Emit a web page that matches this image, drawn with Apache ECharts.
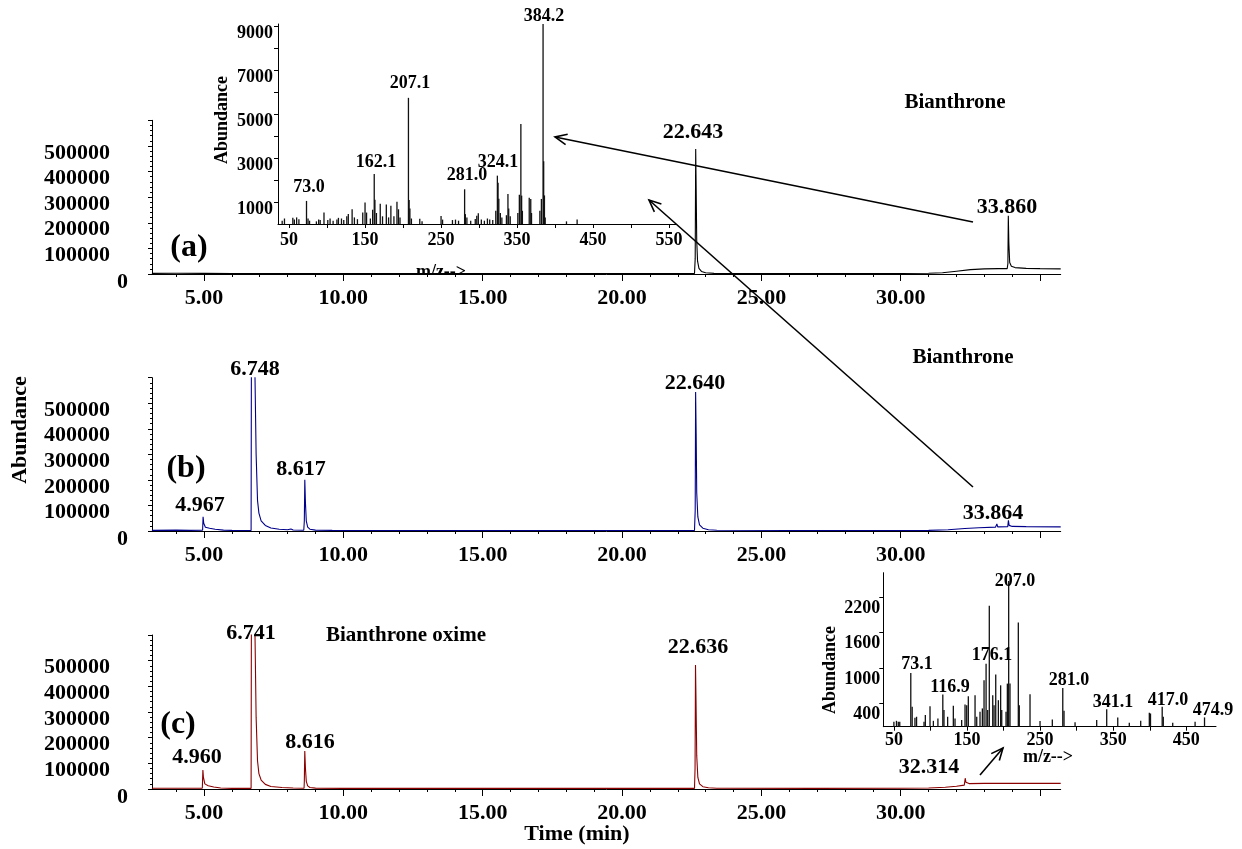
<!DOCTYPE html>
<html>
<head>
<meta charset="utf-8">
<script src="https://cdn.jsdelivr.net/npm/echarts@6/dist/echarts.min.js"></script>
<style>
html,body{margin:0;padding:0;background:#fff}
#chart{width:1242px;height:849px}
</style>
</head>
<body>
<div id="chart"></div>
<script>
// chromatograms: [time (min), abundance]
var traceA = [[3.13,2500],[4.0,2800],[5.0,2500],[6.0,2000],[8.0,2000],[10.0,1800],[12.0,2000],[15.0,1800],[18.0,1800],[20.0,1500],[22.0,1500],[22.60,2000],[22.625,60000],[22.643,488000],[22.66,330000],[22.68,130000],[22.71,50000],[22.76,22000],[22.85,10000],[23.0,5000],[23.3,2500],[25.0,1500],[28.0,1500],[30.0,2000],[31.0,3000],[31.5,5000],[32.0,11000],[32.5,17000],[33.0,20000],[33.5,21000],[33.82,21000],[33.845,40000],[33.86,227000],[33.88,120000],[33.91,45000],[33.97,30000],[34.1,25000],[34.5,22000],[35.0,21000],[35.74,20000]];

var traceB = [[3.13,2500],[4.0,3500],[4.5,2500],[4.95,3000],[4.967,56000],[4.99,30000],[5.05,15000],[5.2,11000],[5.4,7000],[5.7,3500],[6.0,2500],[6.5,2000],[6.69,2000],[6.70,650000],[6.748,1500000],[6.80,800000],[6.83,600000],[6.87,300000],[6.92,120000],[6.97,70000],[7.05,40000],[7.2,22000],[7.4,12000],[7.7,7000],[8.0,5000],[8.12,8000],[8.2,4000],[8.58,3000],[8.60,40000],[8.617,201000],[8.64,110000],[8.67,40000],[8.72,15000],[8.8,7000],[9.0,3500],[9.6,2500],[9.62,5000],[9.65,2500],[11.4,2000],[11.42,4500],[11.45,2000],[11.95,2000],[11.97,6000],[12.0,2000],[15.46,2000],[15.48,7000],[15.5,2000],[18.6,2000],[18.62,5000],[18.65,2000],[22.0,2000],[22.60,2500],[22.625,80000],[22.640,544000],[22.66,380000],[22.68,150000],[22.72,55000],[22.78,24000],[22.9,11000],[23.1,5000],[23.4,3000],[26.0,2000],[30.0,2000],[31.0,2500],[31.7,5000],[32.3,10000],[32.8,13000],[33.4,15000],[33.45,28000],[33.48,16000],[33.84,17000],[33.864,42000],[33.89,22000],[34.0,18000],[34.5,17000],[35.74,16000]];

var traceC = [[3.13,3000],[4.0,3000],[4.94,3500],[4.96,74000],[4.98,45000],[5.03,20000],[5.15,13000],[5.35,8000],[5.6,4000],[6.0,2500],[6.69,2500],[6.70,650000],[6.741,1500000],[6.80,800000],[6.83,600000],[6.87,280000],[6.92,110000],[6.97,60000],[7.05,35000],[7.2,18000],[7.4,10000],[7.8,6000],[8.2,4000],[8.59,3000],[8.60,30000],[8.616,148000],[8.64,80000],[8.67,30000],[8.72,12000],[8.8,6000],[9.0,3500],[10.0,2500],[11.6,2500],[11.63,6000],[11.66,2500],[15.0,2500],[20.0,2500],[22.60,2500],[22.62,80000],[22.636,483000],[22.655,340000],[22.68,130000],[22.72,45000],[22.78,20000],[22.9,9000],[23.1,5000],[23.4,3000],[27.0,2500],[30.0,3000],[31.0,4000],[31.6,7000],[32.0,11000],[32.28,15000],[32.314,42000],[32.34,26000],[32.45,21000],[33.0,22000],[34.0,22000],[35.74,22000]];

// mass spectra: [m/z, abundance]
var spectrumA = [[41,150],[44,250],[55,280],[57,200],[60,300],[63,220],[73.0,1050],[75,250],[77,150],[86,120],[89,200],[91,180],[96,520],[101,180],[104,250],[108,150],[113,200],[115,280],[119,250],[122,180],[126,350],[128,450],[133,670],[136,300],[140,220],[147,520],[150,980],[152,520],[157,250],[160,650],[162.1,2270],[163,1100],[165,500],[170,920],[173,350],[178,890],[181,300],[184,830],[188,350],[192,1010],[194,670],[196,300],[207.1,5740],[208,1090],[209,700],[211,250],[222,240],[225,120],[250,360],[252,200],[265,180],[269,200],[273,150],[281.0,1580],[282,450],[284,300],[289,150],[295,230],[297,380],[299,490],[303,200],[307,150],[311,250],[314,200],[318,180],[322,600],[324.1,2200],[325,1880],[326,1150],[328,500],[330,300],[336,400],[338,1360],[339,700],[341,350],[351,500],[353,1330],[355,4550],[356,1290],[357,600],[366,1200],[368,1140],[369,500],[380,600],[382,1140],[384.2,9100],[385,2860],[386,1300],[387,300],[415,120],[429,210]];

var spectrumC = [[50,85],[53.5,100],[56,85],[58,85],[73.1,912],[75,338],[78.8,152],[81,169],[91.2,85],[93,197],[99.4,349],[104,100],[110.2,141],[116.9,547],[118.5,282],[123.5,169],[131.3,355],[133.6,141],[142.7,113],[147.3,378],[149.6,366],[151.8,518],[161,535],[163.3,169],[167.8,253],[171,311],[173.3,789],[176.1,1071],[178.3,282],[180.5,2056],[185.2,535],[187,366],[189.3,890],[192.9,451],[196,704],[197.5,282],[203.4,253],[205.2,733],[207.0,2478],[208.8,733],[220.2,1774],[221.5,366],[236.2,552],[249.9,96],[266.7,124],[281.0,659],[282.7,270],[297.8,74],[327.4,113],[341.1,299],[356.2,158],[372,68],[387.6,101],[399.4,236],[401,225],[417.0,338],[418.5,169],[431.4,68],[462,85],[474.9,158]];

// tick positions and labels
var timeLabels = [5, 10, 15, 20, 25, 30];
var timeMajorTicks = [5, 10, 15, 20, 25, 30, 35];
var timeMinorTicks = [4, 6, 7, 8, 9, 11, 12, 13, 14, 16, 17, 18, 19, 21, 22, 23, 24, 26, 27, 28, 29, 31, 32, 33, 34];
var mzLabelsA = [50, 150, 250, 350, 450, 550];
var mzTicksA = [50, 100, 150, 200, 250, 300, 350, 400, 450, 500, 550];
var mzLabelsC = [50, 150, 250, 350, 450];
var mzTicksC = [50, 100, 150, 200, 250, 300, 350, 400, 450];
var abLabelsA = [1000, 3000, 5000, 7000, 9000];
var abTicksA = [1000, 2000, 3000, 4000, 5000, 6000, 7000, 8000, 9000];
var abLabelsC = [400, 1000, 1600, 2200];

var FONT = '"Liberation Serif","Times New Roman",serif';

var myChart = echarts.init(document.getElementById('chart'));

function fnt(size){
    return {fontFamily: FONT, fontWeight: 'bold', fontSize: size, color: '#000'};
}

function mainX(g){
    return {
        gridIndex: g, type: 'value', position: 'bottom', min: 3.134, max: 35.74, z: 3,
        axisLine: {lineStyle: {color: '#000', width: 1}},
        axisTick: {customValues: timeMajorTicks, length: 7, lineStyle: {color: '#000'}},
        axisLabel: Object.assign({customValues: timeLabels, margin: 13,
            formatter: function(v){ return v.toFixed(2); }}, fnt(22)),
        splitLine: {show: false}
    };
}
function minorX(g){
    return {
        gridIndex: g, type: 'value', position: 'bottom', min: 3.134, max: 35.74, z: 3,
        axisLine: {show: false},
        axisTick: {customValues: timeMinorTicks, length: 3, lineStyle: {color: '#000'}},
        axisLabel: {show: false},
        splitLine: {show: false}
    };
}
function mainY(g){
    var base = fnt(22);
    return {
        gridIndex: g, type: 'value', min: 0, max: 600000, interval: 100000,
        axisLine: {show: true, lineStyle: {color: '#000', width: 1}},
        axisTick: {show: true, length: 4, lineStyle: {color: '#000'}},
        minorTick: {show: true, splitNumber: 5, length: 2, lineStyle: {color: '#000'}},
        axisLabel: {
            margin: 24,
            formatter: function(v){
                if (v === 0) return '{z|0}';
                if (v > 500000) return '';
                return '{n|' + v + '}';
            },
            rich: {
                n: Object.assign({padding: [14, 18, 0, 0]}, base),
                z: Object.assign({padding: [17, 0, 0, 0]}, base)
            }
        },
        splitLine: {show: false}
    };
}

function txt(t, x, y, size, rot){
    return {type: 'text', x: x, y: y, rotation: rot || 0, z: 10,
        style: {text: t, fill: '#000', font: 'bold ' + size + 'px ' + FONT,
            textAlign: 'center', textVerticalAlign: 'middle'}};
}
function arrow(x1, y1, x2, y2){
    var a = Math.atan2(y2 - y1, x2 - x1), L = 13, s = 0.42;
    return [
        {type: 'line', z: 10, shape: {x1: x1, y1: y1, x2: x2, y2: y2}, style: {stroke: '#000', lineWidth: 1.6}},
        {type: 'polyline', z: 10, shape: {points: [
            [x2 - L * Math.cos(a - s), y2 - L * Math.sin(a - s)], [x2, y2],
            [x2 - L * Math.cos(a + s), y2 - L * Math.sin(a + s)]]},
         style: {stroke: '#000', lineWidth: 1.6, fill: null}}
    ];
}

var graphics = [
    // panel (a)
    txt('22.643', 693, 132, 22), txt('33.860', 1007, 207, 22), txt('Bianthrone', 955, 103, 21), txt('(a)', 189, 248, 32),
    // panel (b)
    txt('6.748', 255, 369, 22), txt('4.967', 200, 505, 22), txt('8.617', 301, 469, 22),
    txt('22.640', 695, 383, 22), txt('33.864', 993, 513, 22), txt('Bianthrone', 963, 358, 21), txt('(b)', 186, 469, 32),
    txt('Abundance', 20, 430, 22, Math.PI / 2),
    // panel (c)
    txt('6.741', 251, 633, 22), txt('4.960', 197, 757, 22), txt('8.616', 310, 742, 22),
    txt('22.636', 698, 647, 22), txt('32.314', 929, 767, 22), txt('Bianthrone oxime', 406, 636, 21), txt('(c)', 178, 725, 32),
    txt('Time (min)', 577, 834, 22),
    // inset (a)
    txt('73.0', 309, 187, 18), txt('162.1', 376, 162, 18), txt('207.1', 410, 83, 18), txt('281.0', 467, 175, 18),
    txt('324.1', 498, 162, 18), txt('384.2', 544, 16, 18), txt('Abundance', 222, 120, 18, Math.PI / 2),
    {type: 'text', x: 441, y: 272, z: 0, style: {text: 'm/z-->', fill: '#000', font: 'bold 18px ' + FONT, textAlign: 'center', textVerticalAlign: 'middle'}},
    {type: 'rect', z: 1, shape: {x: 412, y: 274.6, width: 60, height: 11}, style: {fill: '#fff'}},
    // inset (c)
    txt('207.0', 1015, 581, 18), txt('176.1', 992, 655, 18), txt('73.1', 917, 664, 18), txt('116.9', 950, 687, 18),
    txt('281.0', 1069, 680, 18), txt('341.1', 1113, 702, 18), txt('417.0', 1168, 700, 18), txt('474.9', 1213, 710, 18),
    txt('Abundance', 830, 670, 18, Math.PI / 2), txt('m/z-->', 1048, 757, 18)
].concat(arrow(973, 222, 555, 137), arrow(973, 487, 649, 200), arrow(980, 775, 1003, 748));

var option = {
    animation: false,
    backgroundColor: '#fff',
    grid: [
        {left: 152, top: 120.3, width: 908.7, height: 153.7},
        {left: 152, top: 377.7, width: 908.7, height: 153.3},
        {left: 152, top: 635, width: 908.7, height: 154},
        {left: 278, top: 24, width: 398.7, height: 200},
        {left: 883.3, top: 572.7, width: 332.7, height: 154}
    ],
    xAxis: [
        mainX(0), mainX(1), mainX(2),
        minorX(0), minorX(1), minorX(2),
        {
            gridIndex: 3, type: 'value', min: 35.5, max: 560,
            axisLine: {lineStyle: {color: '#000'}},
            axisTick: {customValues: mzTicksA, length: 4, lineStyle: {color: '#000'}},
            axisLabel: Object.assign({customValues: mzLabelsA, margin: 7}, fnt(18)),
            splitLine: {show: false}
        },
        {
            gridIndex: 4, type: 'value', min: 35.5, max: 490.6,
            axisLine: {lineStyle: {color: '#000'}},
            axisTick: {customValues: mzTicksC, length: 4, lineStyle: {color: '#000'}},
            axisLabel: Object.assign({customValues: mzLabelsC, margin: 5}, fnt(18)),
            splitLine: {show: false}
        }
    ],
    yAxis: [
        mainY(0), mainY(1), mainY(2),
        {
            gridIndex: 3, type: 'value', min: 0, max: 9100,
            axisLine: {show: true, lineStyle: {color: '#000'}},
            axisTick: {show: true, customValues: abTicksA, length: 4, lineStyle: {color: '#000'}},
            axisLabel: {customValues: abLabelsA, margin: 5,
                formatter: function(v){ return '{n|' + v + '}'; },
                rich: {n: Object.assign({padding: [14, 0, 0, 0]}, fnt(18))}},
            splitLine: {show: false}
        },
        {
            gridIndex: 4, type: 'value', min: 0, max: 2620,
            axisLine: {show: true, lineStyle: {color: '#000'}},
            axisTick: {show: true, customValues: abLabelsC, length: 4, lineStyle: {color: '#000'}},
            axisLabel: {customValues: abLabelsC, margin: 3,
                formatter: function(v){ return '{n|' + v + '}'; },
                rich: {n: Object.assign({padding: [22, 0, 0, 0]}, fnt(18))}},
            splitLine: {show: false}
        }
    ],
    series: [
        {name: 'a', type: 'line', xAxisIndex: 0, yAxisIndex: 0, data: traceA, showSymbol: false, symbol: 'none',
         lineStyle: {color: '#000', width: 1.1}, clip: true, silent: true},
        {name: 'b', type: 'line', xAxisIndex: 1, yAxisIndex: 1, data: traceB, showSymbol: false, symbol: 'none',
         lineStyle: {color: '#00008b', width: 1.1}, clip: true, silent: true},
        {name: 'c', type: 'line', xAxisIndex: 2, yAxisIndex: 2, data: traceC, showSymbol: false, symbol: 'none',
         lineStyle: {color: '#8b0000', width: 1.1}, clip: true, silent: true},
        {name: 'msA', type: 'bar', xAxisIndex: 6, yAxisIndex: 3, data: spectrumA, barWidth: 1.3,
         itemStyle: {color: '#111'}, silent: true},
        {name: 'msC', type: 'bar', xAxisIndex: 7, yAxisIndex: 4, data: spectrumC, barWidth: 1.3,
         itemStyle: {color: '#111'}, silent: true}
    ],
    graphic: graphics
};

myChart.setOption(option);
</script>
</body>
</html>
